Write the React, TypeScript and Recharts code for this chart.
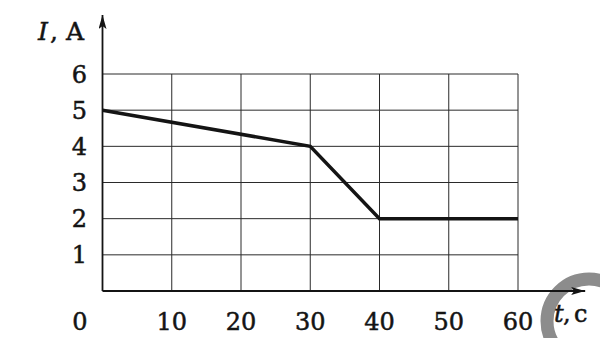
import { CartesianGrid, Line, LineChart, ReferenceLine, XAxis, YAxis } from "recharts";

// current I (A) vs time t (s)
const times = [0, 30, 40, 60];
const currents = [5, 4, 2, 2];
const timeTicks = [0, 10, 20, 30, 40, 50, 60];
const currentTicks = [1, 2, 3, 4, 5, 6];

const data = times.map((t, i) => ({ t, i: currents[i] }));

const FONT = "'DejaVu Serif', 'Liberation Serif', serif";
const INK = "#141414";

function TimeTick({ x, y, payload }: any) {
  const isZero = payload.value === 0;
  return (
    <text
      x={isZero ? x - 15 : x}
      y={y + 30.5}
      textAnchor={isZero ? "end" : "middle"}
      fontFamily={FONT}
      fontSize={24}
      fill={INK}
      stroke={INK}
      strokeWidth={0.5}
    >
      {payload.value}
    </text>
  );
}

function CurrentTick({ y, payload }: any) {
  return (
    <text x={87} y={y + 8.5} textAnchor="end" fontFamily={FONT} fontSize={24} fill={INK} stroke={INK} strokeWidth={0.5}>
      {payload.value}
    </text>
  );
}

export default function App() {
  return (
    <div style={{ position: "absolute", left: 0, top: 0, width: 600, height: 338, background: "#fff" }}>
      <svg width={600} height={338} style={{ position: "absolute", left: 0, top: 0 }}>
        <circle cx={589} cy={321} r={42} fill="none" stroke="#8c8c8c" strokeWidth={13} />
      </svg>
      <div style={{ position: "absolute", left: 0, top: 0 }}>
        <LineChart width={600} height={338} data={data} margin={{ top: 74, right: 82, bottom: 0, left: 0 }}>
          <defs>
            <marker id="arrow" viewBox="0 0 14 8" refX={14} refY={4} markerWidth={14} markerHeight={8} markerUnits="userSpaceOnUse" orient="auto">
              <path d="M0,0 L14,4 L0,8 L3,4 z" fill={INK} />
            </marker>
          </defs>
          <CartesianGrid stroke="#2a2a2a" strokeWidth={1} horizontalValues={currentTicks} verticalValues={timeTicks} />
          <XAxis
            dataKey="t"
            type="number"
            domain={[0, 60]}
            ticks={timeTicks}
            axisLine={false}
            tickLine={false}
            tick={<TimeTick />}
            height={47}
          />
          <YAxis
            type="number"
            domain={[0, 6]}
            ticks={currentTicks}
            axisLine={false}
            tickLine={false}
            tick={<CurrentTick />}
            width={102.5}
            label={{
              content: () => (
                <text y={40} fontFamily={FONT} fontSize={25} fill={INK} stroke={INK} strokeWidth={0.5}>
                  <tspan x={38} fontStyle="italic">I</tspan>
                  <tspan x={50}>,</tspan>
                  <tspan x={66}>A</tspan>
                </text>
              ),
            }}
          />
          <ReferenceLine
            segment={[{ x: 0, y: 0 }, { x: 0, y: 7.63 }]}
            ifOverflow="visible"
            stroke={INK}
            strokeWidth={1.8}
            markerEnd="url(#arrow)"
          />
          <ReferenceLine
            segment={[{ x: 0, y: 0 }, { x: 69.7, y: 0 }]}
            ifOverflow="visible"
            stroke={INK}
            strokeWidth={1.8}
            markerEnd="url(#arrow)"
            label={{
              content: () => (
                <text y={321.5} fontFamily={FONT} fontSize={24} fill={INK} stroke={INK} strokeWidth={0.5}>
                  <tspan x={554} fontStyle="italic">t</tspan>
                  <tspan x={563}>,</tspan>
                  <tspan x={574}>c</tspan>
                </text>
              ),
            }}
          />
          <Line
            type="linear"
            dataKey="i"
            stroke={INK}
            strokeWidth={3.5}
            dot={false}
            isAnimationActive={false}
          />
        </LineChart>
      </div>
    </div>
  );
}
